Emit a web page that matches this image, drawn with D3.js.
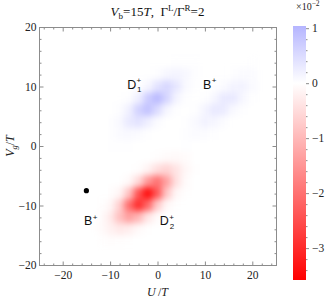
<!DOCTYPE html>
<html>
<head>
<meta charset="utf-8">
<script src="https://cdn.jsdelivr.net/npm/d3@7"></script>
<style>
body { margin: 0; background: #fff; }
</style>
</head>
<body>
<div class="chart"></div>
<script>
// grid of the map: columns are U/T, rows are Vg/T, values in units of 10^-2
const uValues = [-12, -10, -8, -6, -4, -2, 0, 2, 4, 6, 8, 10, 12, 14, 16, 18, 20];
const vgValues = [14, 12, 10, 8, 6, 4, 2, 0, -2, -4, -6, -8, -10, -12, -14, -16];
const cellValues = [
  [0, 0, 0, 0, 0, 0, 0, 0, 0.02, 0.02, 0.02, 0, 0, 0, 0, 0, 0.01],
  [0, 0, 0, 0, 0, 0, 0.03, 0.11, 0.16, 0.10, 0.03, 0, 0, 0, 0.02, 0.05, 0.05],
  [0, 0, 0, 0, 0.02, 0.12, 0.38, 0.55, 0.34, 0.09, 0.01, 0, 0.01, 0.06, 0.16, 0.17, 0.07],
  [0, 0, 0, 0.03, 0.21, 0.69, 0.96, 0.58, 0.15, 0.02, 0, 0.02, 0.12, 0.30, 0.29, 0.12, 0.02],
  [0, 0, 0.03, 0.20, 0.62, 0.85, 0.50, 0.13, 0.01, 0, 0.02, 0.14, 0.31, 0.27, 0.09, 0.02, 0],
  [0, 0.01, 0.09, 0.29, 0.39, 0.22, 0.05, 0, 0, 0.02, 0.09, 0.17, 0.13, 0.04, 0, 0, 0],
  [0, 0.02, 0.07, 0.09, 0.05, 0.01, 0, 0, 0, 0.03, 0.05, 0.04, 0.01, 0, 0, 0, 0],
  [0, 0.01, 0.01, 0.01, 0, 0, 0, 0, 0, 0.01, 0, 0, 0, 0, 0, 0, 0],
  [0, 0, 0, 0, 0, 0, -0.03, -0.07, -0.09, -0.06, 0, 0, 0, 0, 0, 0, 0],
  [0, 0, 0, 0, -0.03, -0.17, -0.46, -0.60, -0.38, -0.11, -0.02, 0, 0, 0, 0, 0, 0],
  [0, 0, 0, -0.09, -0.52, -1.46, -1.99, -1.31, -0.42, -0.06, 0, 0, 0, 0, 0, 0, 0],
  [0, -0.01, -0.13, -0.81, -2.39, -3.40, -2.34, -0.77, -0.12, -0.01, 0, 0, 0, 0, 0, 0, 0],
  [-0.01, -0.10, -0.65, -2.00, -2.97, -2.13, -0.74, -0.12, -0.01, 0, 0, 0, 0, 0, 0, 0, 0],
  [-0.04, -0.27, -0.86, -1.34, -1.00, -0.36, -0.06, 0, 0, 0, 0, 0, 0, 0, 0, 0, 0],
  [-0.06, -0.19, -0.31, -0.24, -0.09, -0.02, 0, 0, 0, 0, 0, 0, 0, 0, 0, 0, 0],
  [-0.02, -0.04, -0.03, -0.01, 0, 0, 0, 0, 0, 0, 0, 0, 0, 0, 0, 0, 0]
];
const xTicks = [-20, -10, 0, 10, 20];
const yTicks = [-20, -10, 0, 10, 20];
const barTicks = [1, 0, -1, -2, -3];
const stateLabels = [
  { base: "D", sup: "+", sub: "1", u: -6.4, vg: 9.6 },
  { base: "B", sup: "+", sub: "", u: 9.6, vg: 9.6 },
  { base: "B", sup: "+", sub: "", u: -15.5, vg: -13.3 },
  { base: "D", sup: "+", sub: "2", u: 0.5, vg: -13.3 }
];
const points = [{ u: -15, vg: -7.5 }];

const outerWidth = 332, outerHeight = 305;
const serif = '"Liberation Serif","Times New Roman",serif';
const frameColor = "#8c8c8c";

const svg = d3.select('.chart').append('svg')
    .attr('width', outerWidth)
    .attr('height', outerHeight)
    .attr('font-family', serif);

const x = d3.scaleLinear().domain([-25, 25]).range([39, 276]);
const y = d3.scaleLinear().domain([-20, 20]).range([265, 27]);
const color = d3.scaleLinear()
    .domain([-3.6, 0, 3.6])
    .range(["#ff0000", "#ffffff", "#0000ff"]);

const defs = svg.append('defs');
defs.append('clipPath').attr('id', 'plotclip')
  .append('rect')
    .attr('x', x(-25)).attr('y', y(20))
    .attr('width', x(25) - x(-25)).attr('height', y(-20) - y(20));
defs.append('filter')
    .attr('id', 'smooth')
    .attr('filterUnits', 'userSpaceOnUse')
    .attr('x', 0).attr('y', 0).attr('width', outerWidth).attr('height', outerHeight)
    .attr('color-interpolation-filters', 'sRGB')
  .append('feGaussianBlur')
    .attr('stdDeviation', 3.4);

// density cells
const cells = [];
vgValues.forEach((v, i) => uValues.forEach((u, j) => cells.push({ u: u, vg: v, value: cellValues[i][j] })));
const step = 2;

svg.append('g').attr('clip-path', 'url(#plotclip)')
  .append('g').attr('filter', 'url(#smooth)')
  .selectAll('rect')
  .data(cells)
  .join('rect')
    .attr('x', d => x(d.u - step / 2) - 0.3)
    .attr('y', d => y(d.vg + step / 2) - 0.3)
    .attr('width', x(step) - x(0) + 0.6)
    .attr('height', y(0) - y(step) + 0.6)
    .attr('fill', d => color(d.value));

// frame
svg.append('rect')
    .attr('x', x(-25) + 0.5).attr('y', y(20) + 0.5)
    .attr('width', x(25) - x(-25)).attr('height', y(-20) - y(20))
    .attr('fill', 'none')
    .attr('stroke', frameColor);

function styleAxis(g) {
  g.select('.domain').remove();
  g.attr('font-family', serif).attr('font-size', 11.5);
  g.selectAll('line').attr('stroke', frameColor);
  g.selectAll('text').attr('fill', '#222');
}
const minorX = d3.range(-24, 25, 2).filter(d => d % 10 !== 0);
const minorY = d3.range(-18, 19, 2).filter(d => d % 10 !== 0);
const fmt = d3.format("d");

svg.append('g').attr('transform', `translate(0,${y(-20) + 0.5})`)
  .call(d3.axisBottom(x).tickValues(xTicks).tickSize(-4).tickPadding(5).tickFormat(fmt)).call(styleAxis);
svg.append('g').attr('transform', `translate(0,${y(-20) + 0.5})`)
  .call(d3.axisBottom(x).tickValues(minorX).tickSize(-2).tickFormat('')).call(styleAxis);
svg.append('g').attr('transform', `translate(0,${y(20) + 0.5})`)
  .call(d3.axisTop(x).tickValues(xTicks).tickSize(-4).tickFormat('')).call(styleAxis);
svg.append('g').attr('transform', `translate(0,${y(20) + 0.5})`)
  .call(d3.axisTop(x).tickValues(minorX).tickSize(-2).tickFormat('')).call(styleAxis);

svg.append('g').attr('transform', `translate(${x(-25) + 0.5},0)`)
  .call(d3.axisLeft(y).tickValues(yTicks).tickSize(-4).tickPadding(3).tickFormat(fmt)).call(styleAxis);
svg.append('g').attr('transform', `translate(${x(-25) + 0.5},0)`)
  .call(d3.axisLeft(y).tickValues(minorY).tickSize(-2).tickFormat('')).call(styleAxis);
svg.append('g').attr('transform', `translate(${x(25) + 0.5},0)`)
  .call(d3.axisRight(y).tickValues(yTicks).tickSize(-4).tickFormat('')).call(styleAxis);
svg.append('g').attr('transform', `translate(${x(25) + 0.5},0)`)
  .call(d3.axisRight(y).tickValues(minorY).tickSize(-2).tickFormat('')).call(styleAxis);

// black point
svg.selectAll('circle.pt')
  .data(points)
  .join('circle')
    .attr('class', 'pt')
    .attr('cx', d => x(d.u))
    .attr('cy', d => y(d.vg))
    .attr('r', 2.6)
    .attr('fill', '#000');

// state labels: base letter with stacked superscript and subscript
const tags = svg.append('g')
    .attr('font-family', '"Liberation Sans",Arial,sans-serif')
    .attr('fill', '#111');
stateLabels.forEach(l => {
  const bx = x(l.u), by = y(l.vg);
  const t = tags.append('text').attr('x', bx).attr('y', by).attr('font-size', 12.5).text(l.base);
  const w = t.node().getComputedTextLength();
  tags.append('text').attr('x', bx + w + 0.3).attr('y', by - 5.5).attr('font-size', 8).text(l.sup);
  if (l.sub) tags.append('text').attr('x', bx + w + 0.8).attr('y', by + 3.5).attr('font-size', 8).text(l.sub);
});

// title
const title = svg.append('text')
    .attr('x', (x(-25) + x(25)) / 2)
    .attr('y', 16)
    .attr('text-anchor', 'middle')
    .attr('font-size', 13)
    .attr('fill', '#111');
title.append('tspan').attr('font-style', 'italic').text('V');
title.append('tspan').attr('font-size', 9).attr('dy', 3).text('b');
title.append('tspan').attr('dy', -3).text('=15');
title.append('tspan').attr('font-style', 'italic').text('T');
title.append('tspan').text(',\u00a0\u00a0\u0393');
title.append('tspan').attr('font-size', 9).attr('dy', -5).text('L');
title.append('tspan').attr('dy', 5).text('/\u0393');
title.append('tspan').attr('font-size', 9).attr('dy', -5).text('R');
title.append('tspan').attr('dy', 5).text('=2');

// axis titles
const xl = svg.append('text')
    .attr('x', (x(-25) + x(25)) / 2)
    .attr('y', 296)
    .attr('text-anchor', 'middle')
    .attr('font-size', 12)
    .attr('fill', '#222');
xl.append('tspan').attr('font-style', 'italic').text('U');
xl.append('tspan').text('\u2009/');
xl.append('tspan').attr('font-style', 'italic').text('T');

const yl = svg.append('text')
    .attr('transform', `translate(14,${(y(-20) + y(20)) / 2}) rotate(-90)`)
    .attr('text-anchor', 'middle')
    .attr('font-size', 12)
    .attr('fill', '#222');
yl.append('tspan').attr('font-style', 'italic').text('V');
yl.append('tspan').attr('font-size', 8.5).attr('dy', 3).attr('font-style', 'italic').text('g');
yl.append('tspan').attr('dy', -3).text('/');
yl.append('tspan').attr('font-style', 'italic').text('T');

// colour bar
const bar = d3.scaleLinear().domain([-3.58, 1.04]).range([280, 26]);
const barX = 293, barW = 13;
const grad = defs.append('linearGradient')
    .attr('id', 'bargrad')
    .attr('x1', 0).attr('y1', 1).attr('x2', 0).attr('y2', 0);
grad.selectAll('stop')
  .data(bar.domain().concat([0]).sort(d3.ascending))
  .join('stop')
    .attr('offset', d => (d - bar.domain()[0]) / (bar.domain()[1] - bar.domain()[0]))
    .attr('stop-color', d => color(d));
svg.append('rect')
    .attr('x', barX).attr('y', bar(1.04))
    .attr('width', barW).attr('height', bar(-3.58) - bar(1.04))
    .attr('fill', 'url(#bargrad)');

const barMinor = d3.range(-3.4, 1.01, 0.2).filter(d => Math.abs(d - Math.round(d)) > 0.01);
svg.append('g').attr('transform', `translate(${barX + barW},0)`)
  .call(d3.axisRight(bar).tickValues(barTicks).tickSize(3).tickPadding(3).tickFormat(fmt)).call(styleAxis);
svg.append('g').attr('transform', `translate(${barX + barW},0)`)
  .call(d3.axisRight(bar).tickValues(barMinor).tickSize(1.5).tickFormat('')).call(styleAxis);

const sc = svg.append('text')
    .attr('x', 296)
    .attr('y', 10)
    .attr('font-size', 10)
    .attr('fill', '#222');
sc.append('tspan').text('\u00d710');
sc.append('tspan').attr('font-size', 7.5).attr('dy', -4).text('\u22122');
</script>
</body>
</html>
